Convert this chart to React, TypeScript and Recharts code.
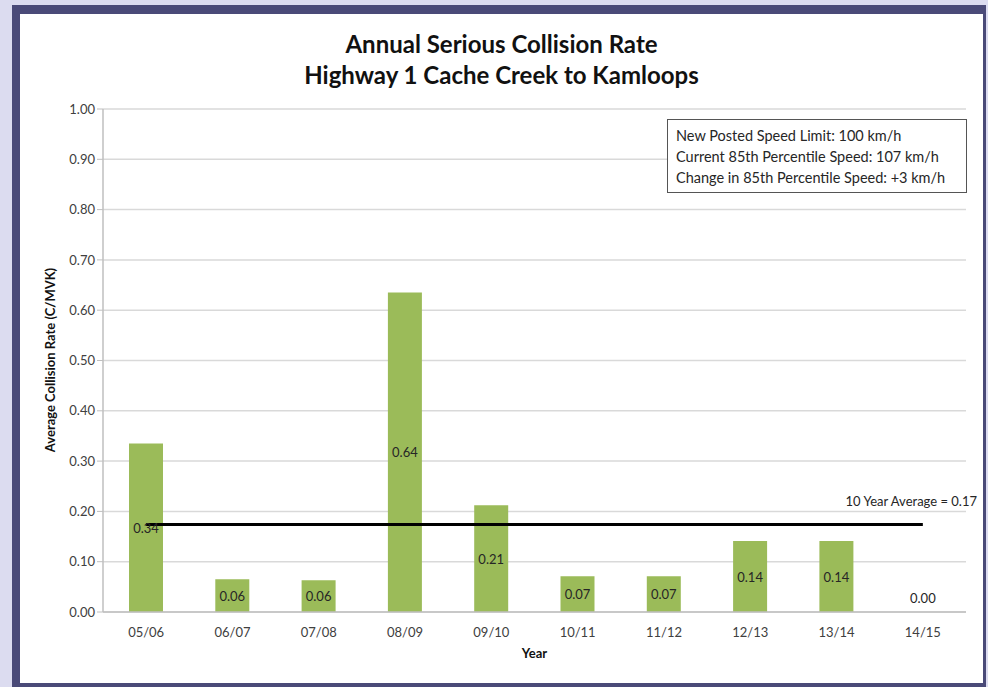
import React from "react";
import {
  ComposedChart,
  Bar,
  Line,
  XAxis,
  YAxis,
  CartesianGrid,
  ReferenceLine,
  LabelList,
} from "recharts";

const years = ["05/06", "06/07", "07/08", "08/09", "09/10", "10/11", "11/12", "12/13", "13/14", "14/15"];
const rates = [0.335, 0.065, 0.063, 0.635, 0.212, 0.071, 0.071, 0.141, 0.141, 0.0];
const rateLabels = ["0.34", "0.06", "0.06", "0.64", "0.21", "0.07", "0.07", "0.14", "0.14", "0.00"];
const yTicks = [0, 0.1, 0.2, 0.3, 0.4, 0.5, 0.6, 0.7, 0.8, 0.9, 1.0];
const boundaryTicks = [0, 1, 2, 3, 4, 5, 6, 7, 8, 9, 10];
const tenYearAverage = 0.174;
const infoLines = [
  "New Posted Speed Limit: 100 km/h",
  "Current 85th Percentile Speed: 107 km/h",
  "Change in 85th Percentile Speed: +3 km/h",
];

const data = years.map((year, i) => ({ year, rate: rates[i], label: rateLabels[i] }));

const FONT = "Lato, 'Open Sans', sans-serif";

// value label in the middle of each bar
const BarValue = (props: any) => {
  const { x, y, width, height, index } = props;
  if (!(height > 1)) return null;
  return (
    <text x={x + width / 2} y={y + height / 2} dy={5} textAnchor="middle" fontSize={13} fill="#262626" fontFamily={FONT}>
      {rateLabels[index]}
    </text>
  );
};

// zero bars have no rect, so their label hangs off an invisible line point
const ZeroValue = (props: any) => {
  const { x, y, index } = props;
  if (rates[index] !== 0) return null;
  return (
    <text x={x} y={y - 14} dy={5} textAnchor="middle" fontSize={13} fill="#262626" fontFamily={FONT}>
      {rateLabels[index]}
    </text>
  );
};

export default function App() {
  return (
    <div style={{ position: "absolute", left: 0, top: 0, width: 988, height: 687, background: "#dcdcf0", fontFamily: FONT }}>
      <div style={{ position: "absolute", left: 12, top: 5, width: 974, height: 682, background: "#4a4a78" }} />
      <div style={{ position: "absolute", left: 20, top: 14, width: 963, height: 669, background: "#ffffff" }}>
        <div style={{ position: "absolute", left: 0, top: 0 }}>
          <ComposedChart width={963} height={669} data={data} margin={{ top: 95, right: 17, left: 23, bottom: 27 }}>
            <CartesianGrid vertical={false} stroke="#d9d9d9" strokeWidth={1.5} />
            <XAxis
              xAxisId="edges"
              type="number"
              domain={[0, 10]}
              ticks={boundaryTicks}
              allowDataOverflow
              height={0}
              tick={false}
              axisLine={false}
              tickLine={{ stroke: "#bfbfbf" }}
              tickSize={5}
            />
            <XAxis
              dataKey="year"
              height={44}
              tickLine={false}
              axisLine={{ stroke: "#bfbfbf", strokeWidth: 1.5 }}
              tick={{ fontSize: 13, fill: "#404040", fontFamily: FONT }}
              tickMargin={10}
              interval={0}
            />
            <YAxis
              domain={[0, 1]}
              ticks={yTicks}
              width={60}
              tickFormatter={(v: number) => v.toFixed(2)}
              axisLine={{ stroke: "#bfbfbf", strokeWidth: 1.5 }}
              tickLine={{ stroke: "#bfbfbf" }}
              tickSize={6}
              tick={{ fontSize: 13, fill: "#404040", fontFamily: FONT }}
            />
            <Bar dataKey="rate" fill="#9bbb59" barSize={34} isAnimationActive={false}>
              <LabelList dataKey="label" content={BarValue} />
            </Bar>
            <Line dataKey="rate" stroke="none" dot={false} activeDot={false} isAnimationActive={false}>
              <LabelList dataKey="label" content={ZeroValue} />
            </Line>
            <ReferenceLine
              segment={[
                { x: years[0], y: tenYearAverage },
                { x: years[years.length - 1], y: tenYearAverage },
              ]}
              stroke="#000"
              strokeWidth={3}
            />
          </ComposedChart>
        </div>
        <div style={{ position: "absolute", left: 0, top: 14, width: 963, textAlign: "center", fontSize: 24, fontWeight: 700, lineHeight: "31px", color: "#111" }}>
          Annual Serious Collision Rate
          <br />
          Highway 1 Cache Creek to Kamloops
        </div>
        <div style={{ position: "absolute", left: 647, top: 105, width: 300, height: 74, border: "1px solid #555", background: "#fff", boxSizing: "border-box", padding: "5px 0 0 8px", fontSize: 14.5, lineHeight: "21px", color: "#262626", whiteSpace: "nowrap" }}>
          {infoLines.map((l) => (
            <div key={l}>{l}</div>
          ))}
        </div>
        <div style={{ position: "absolute", left: 0, top: 479, width: 957, textAlign: "right", fontSize: 13, color: "#262626" }}>
          10 Year Average = 0.17
        </div>
        <div style={{ position: "absolute", left: 30, top: 346, width: 0, height: 0 }}>
          <div style={{ position: "absolute", transform: "translate(-50%, -50%) rotate(-90deg)", whiteSpace: "nowrap", fontSize: 13, fontWeight: 700, color: "#111" }}>
            Average Collision Rate (C/MVK)
          </div>
        </div>
        <div style={{ position: "absolute", left: 83, top: 631, width: 863, textAlign: "center", fontSize: 13, fontWeight: 700, color: "#111" }}>
          Year
        </div>
      </div>
    </div>
  );
}
